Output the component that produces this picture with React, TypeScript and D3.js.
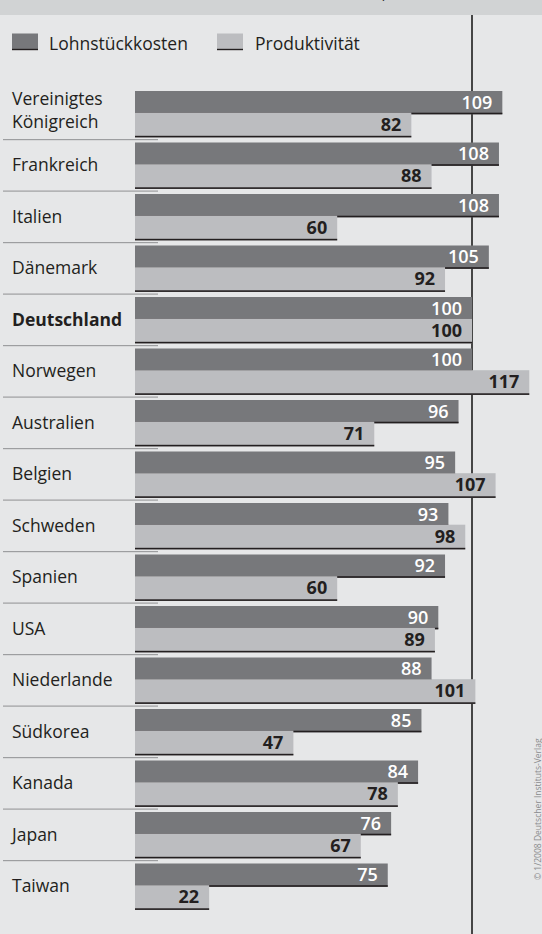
import React from "react";
import * as d3 from "d3";

const countries = [
  "Vereinigtes Königreich", "Frankreich", "Italien", "Dänemark", "Deutschland",
  "Norwegen", "Australien", "Belgien", "Schweden", "Spanien", "USA",
  "Niederlande", "Südkorea", "Kanada", "Japan", "Taiwan",
];
const lohnstueckkosten = [109, 108, 108, 105, 100, 100, 96, 95, 93, 92, 90, 88, 85, 84, 76, 75];
const produktivitaet = [82, 88, 60, 92, 100, 117, 71, 107, 98, 60, 89, 101, 47, 78, 67, 22];
const seriesNames = ["Lohnstückkosten", "Produktivität"];
const headerTitle = "Lohnstückkosten und Produktivität 2006, Deutschland = 100";
const copyright = "© 1/2008 Deutscher Instituts-Verlag";

const W = 542;
const H = 934;
const DARK = "#77787b";
const LIGHT = "#bcbdc0";
const BG = "#e6e7e8";
const HEADER = "#d1d3d4";
const INK = "#231f20";
const FONT = "'Open Sans', 'Noto Sans', sans-serif";

export default function App() {
  const x = d3.scaleLinear().domain([0, 100]).range([135, 472]);
  const y = d3.scaleBand<string>().domain(countries).range([91, 91 + countries.length * 51.5]).padding(0);
  const barH = 23.3;
  const lineH = 1.6;
  const x0 = x(0);

  return (
    <svg width={W} height={H} style={{ position: "absolute", left: 0, top: 0, fontFamily: FONT }}>
      <rect x={0} y={0} width={W} height={H} fill={BG} />
      <rect x={0} y={0} width={W} height={15} fill={HEADER} />
      <text x={300} y={-1} textAnchor="middle" fontSize={17} fill={INK}>{headerTitle}</text>

      {/* 100 reference line */}
      <line x1={x(100)} x2={x(100)} y1={15} y2={H} stroke="#111" strokeWidth={1.5} />

      {/* legend */}
      <rect x={12} y={33.5} width={26} height={16.5} fill={DARK} />
      <rect x={12} y={48.8} width={26} height={1.4} fill={INK} />
      <text x={49} y={50} fontSize={17.5} fill={INK}>{seriesNames[0]}</text>
      <rect x={217} y={33.5} width={26} height={16.5} fill={LIGHT} />
      <rect x={217} y={48.8} width={26} height={1.4} fill={INK} />
      <text x={255} y={50} fontSize={17.5} fill={INK}>{seriesNames[1]}</text>

      {countries.map((c, i) => {
        const y0 = y(c) as number;
        const a = lohnstueckkosten[i];
        const b = produktivitaet[i];
        const bold = c === "Deutschland";
        const parts = c === "Vereinigtes Königreich" ? ["Vereinigtes", "Königreich"] : [c];
        return (
          <g key={c}>
            {i > 0 && (
              <rect x={3} y={y0 - 3.5} width={155} height={1.2} fill="#9d9ea0" />
            )}
            {parts.length === 2 ? (
              <text x={12} fontSize={17.5} fill={INK}>
                <tspan x={12} y={y0 + 14}>{parts[0]}</tspan>
                <tspan x={12} y={y0 + 37}>{parts[1]}</tspan>
              </text>
            ) : (
              <text x={12} y={y0 + 28.5} fontSize={17.5} fill={INK} fontWeight={bold ? 700 : 400}>{c}</text>
            )}
            <rect x={x0} y={y0} width={x(a) - x0} height={barH} fill={DARK} />
            <rect x={x0} y={y0 + barH - lineH} width={x(a) - x0} height={lineH} fill={INK} />
            <text x={x(a) - 10} y={y0 + 17.5} textAnchor="end" fontSize={18} fontWeight={600} fill="#ffffff">{a}</text>
            <rect x={x0} y={y0 + barH - lineH} width={x(b) - x0} height={barH + lineH - 0.2} fill={LIGHT} />
            <rect x={x0} y={y0 + 2 * barH - lineH - 0.2} width={x(b) - x0} height={lineH} fill={INK} />
            <text x={x(b) - 10} y={y0 + 39.5} textAnchor="end" fontSize={18} fontWeight={700} fill={INK}>{b}</text>
          </g>
        );
      })}

      <text transform="translate(541,880) rotate(-90)" fontSize={8.5} fill="#8a8b8d">{copyright}</text>
    </svg>
  );
}
